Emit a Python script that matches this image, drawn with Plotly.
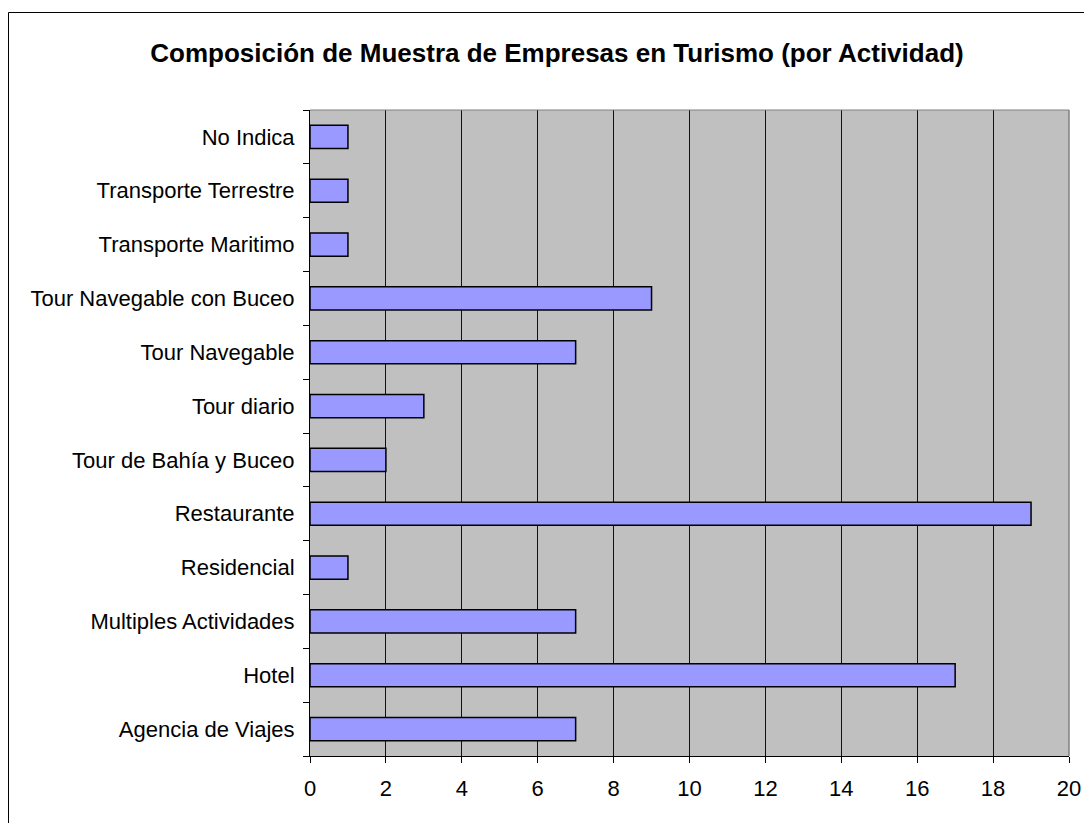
import plotly.graph_objects as go

categories = [
    "Agencia de Viajes", "Hotel", "Multiples Actividades", "Residencial",
    "Restaurante", "Tour de Bahía y Buceo", "Tour diario", "Tour Navegable",
    "Tour Navegable con Buceo", "Transporte Maritimo", "Transporte Terrestre",
    "No Indica",
]
values = [7, 17, 7, 1, 19, 2, 3, 7, 9, 1, 1, 1]
x_ticks = [0, 2, 4, 6, 8, 10, 12, 14, 16, 18, 20]
title_text = "Composición de Muestra de Empresas en Turismo (por Actividad)"

FONT = "Liberation Sans, Arial, sans-serif"

fig = go.Figure(go.Bar(
    y=categories, x=values, orientation="h",
    width=0.43,
    marker=dict(color="#9999FF", line=dict(color="#000000", width=1.5)),
    hoverinfo="x+y",
))

# page is rendered with an 8px body margin: work in page coordinates, offset by 8
OFF = 8
PW, PH = 1092, 823
W, H = PW - OFF, PH - OFF
PL, PR, PT, PB = 310, 1069, 110, 756   # plot area in page pixels
L, T = PL - OFF, PT - OFF
R = W - (PR - OFF)
B = H - (PB - OFF)
pw, ph = W - L - R, H - T - B

def px(xpage):
    return (xpage - PL) / pw

def py(ypage):
    return (PB - ypage) / ph

fig.update_layout(
    width=W, height=H,
    margin=dict(l=L, r=R, t=T, b=B, pad=0),
    paper_bgcolor="white",
    plot_bgcolor="#C0C0C0",
    showlegend=False,
    bargap=0.57,
    title=dict(
        text="<b>" + title_text + "</b>",
        x=(557 - OFF) / W, xanchor="center", xref="container",
        y=1 - (53 - OFF) / H, yanchor="middle", yref="container",
        font=dict(family=FONT, size=26, color="#000000"),
    ),
    font=dict(family=FONT, color="#000000"),
    xaxis=dict(
        range=[0, 20], tickvals=x_ticks, ticktext=[str(v) for v in x_ticks],
        showgrid=True, gridcolor="#111111", gridwidth=1,
        showline=True, linecolor="#000000", linewidth=1,
        ticks="outside", ticklen=6, tickcolor="#000000",
        tickfont=dict(family=FONT, size=22, color="#000000"),
        ticklabelstandoff=7,
        zeroline=False, fixedrange=True,
    ),
    yaxis=dict(
        categoryorder="array", categoryarray=categories,
        showgrid=False,
        showline=True, linecolor="#000000", linewidth=1,
        ticks="outside", ticklen=6, tickcolor="#000000",
        tickson="boundaries",
        tickfont=dict(family=FONT, size=22, color="#000000"),
        ticklabelstandoff=10,
        fixedrange=True,
    ),
    shapes=[
        # outer chart border (extends beyond the visible page on right/bottom)
        dict(type="rect", xref="paper", yref="paper",
             x0=px(8.5), x1=px(1200), y0=py(900), y1=py(12.5),
             line=dict(color="#000000", width=1), fillcolor="rgba(0,0,0,0)",
             layer="above"),
        # plot area top and right edges (gray)
        dict(type="line", xref="paper", yref="paper", x0=0, x1=1, y0=1, y1=1,
             line=dict(color="#808080", width=1), layer="above"),
        dict(type="line", xref="paper", yref="paper", x0=1, x1=1, y0=0, y1=1,
             line=dict(color="#808080", width=1.5), layer="above"),
    ],
)

fig.write_html("out.html")
